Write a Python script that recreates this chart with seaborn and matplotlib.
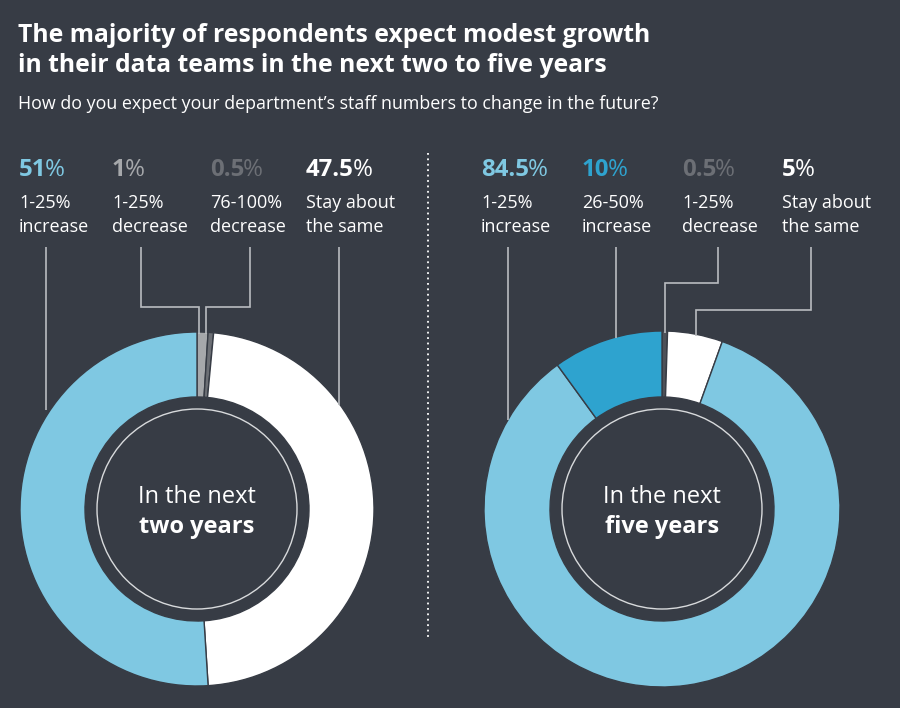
import numpy as np
import pandas as pd
import seaborn as sns
import matplotlib
matplotlib.use("Agg")
import matplotlib.pyplot as plt
from matplotlib.patches import Circle

# ---------------- data ----------------
title_lines = ["The majority of respondents expect modest growth",
               "in their data teams in the next two to five years"]
subtitle = "How do you expect your department\u2019s staff numbers to change in the future?"

# Two-year outlook (header order)
two_cats = ["1-25%\nincrease", "1-25%\ndecrease", "76-100%\ndecrease", "Stay about\nthe same"]
two_vals = [51, 1, 0.5, 47.5]
two_pct = ["51", "1", "0.5", "47.5"]
# wedge order clockwise from 12 o'clock (indices into the lists above)
two_order = [1, 2, 3, 0]

# Five-year outlook (header order)
five_cats = ["1-25%\nincrease", "26-50%\nincrease", "1-25%\ndecrease", "Stay about\nthe same"]
five_vals = [84.5, 10, 0.5, 5]
five_pct = ["84.5", "10", "0.5", "5"]
five_order = [2, 3, 0, 1]

# ---------------- style ----------------
BG = "#373c45"
LIGHT_BLUE = "#7fc8e2"
MID_BLUE = "#2ea3cf"
WHITE = "#ffffff"
LIGHT_GRAY = "#a6a8ab"
DARK_GRAY = "#6c6f75"
SLICE_DARK = "#4d5158"
LINE = "#b9bcc0"

two_wedge_colors = [LIGHT_BLUE, LIGHT_GRAY, DARK_GRAY, WHITE]
two_label_colors = [LIGHT_BLUE, LIGHT_GRAY, DARK_GRAY, WHITE]
five_wedge_colors = [LIGHT_BLUE, MID_BLUE, SLICE_DARK, WHITE]
five_label_colors = [LIGHT_BLUE, MID_BLUE, DARK_GRAY, WHITE]

sns.set_theme(style="white")
FONT = "Open Sans"
plt.rcParams["font.family"] = [FONT, "DejaVu Sans"]

W, H = 900, 708
fig = plt.figure(figsize=(W / 100, H / 100), dpi=100, facecolor=BG)
ax = fig.add_axes([0, 0, 1, 1])
ax.set_facecolor(BG)


def donut(cx, cy, r_out, r_in, vals, colors, order):
    v = [vals[i] for i in order]
    c = [colors[i] for i in order]
    ax.pie(v, colors=c, startangle=-90, counterclock=True, radius=r_out,
           center=(cx, cy), frame=True,
           wedgeprops=dict(width=r_out - r_in, edgecolor=BG, linewidth=1.0,
                           antialiased=True))
    ax.add_patch(Circle((cx, cy), r_in - 12, fill=False, edgecolor="#d8dadc",
                        linewidth=1.0))


donut(197, 509, 177, 112, two_vals, two_wedge_colors, two_order)
donut(662, 509, 178, 112, five_vals, five_wedge_colors, five_order)

ax.set_xlim(0, W)
ax.set_ylim(H, 0)
ax.set_aspect("auto")
ax.axis("off")

# ---------------- texts ----------------
ax.text(18, 42, title_lines[0], color="white", fontsize=17.8, fontweight="bold",
        va="baseline", ha="left")
ax.text(18, 72, title_lines[1], color="white", fontsize=17.8, fontweight="bold",
        va="baseline", ha="left")
ax.text(18, 109, subtitle, color="white", fontsize=12.9, va="baseline", ha="left")

fig.canvas.draw()
renderer = fig.canvas.get_renderer()


def header(x, pct, cat, color):
    t = ax.text(x, 176, pct, color=color, fontsize=17.3, fontweight="bold",
                va="baseline", ha="left")
    bb = t.get_window_extent(renderer)
    ax.text(x + bb.width - 1.5, 176, "%", color=color, fontsize=17.3,
            fontweight="normal", va="baseline", ha="left")
    l1, l2 = cat.split("\n")
    ax.text(x, 208, l1, color="white", fontsize=13, va="baseline", ha="left")
    ax.text(x, 232, l2, color="white", fontsize=13, va="baseline", ha="left")


two_x = [19, 112, 210, 306]
five_x = [481, 582, 682, 782]
for x, p, c, col in zip(two_x, two_pct, two_cats, two_label_colors):
    header(x, p, c, col)
for x, p, c, col in zip(five_x, five_pct, five_cats, five_label_colors):
    header(x, p, c, col)

# ---------------- leader lines ----------------
lkw = dict(color=LINE, linewidth=1.2, solid_capstyle="butt", solid_joinstyle="miter")
ax.plot([46, 46], [247, 410], **lkw)
ax.plot([141, 141, 199, 199], [247, 307, 307, 334], **lkw)
ax.plot([250, 250, 206, 206], [247, 307, 307, 334], **lkw)
ax.plot([339, 339], [247, 405], **lkw)

ax.plot([508, 508], [247, 420], **lkw)
ax.plot([616, 616], [247, 338], **lkw)
ax.plot([718, 718, 665, 665], [247, 283, 283, 333], **lkw)
ax.plot([811, 811, 696, 696], [247, 310, 310, 336], **lkw)

# divider
ax.plot([428, 428], [153, 637], color="white", linewidth=1.3, linestyle=(0, (1, 2)))

# centre labels
for cx, word in [(197, "two years"), (662, "five years")]:
    ax.text(cx, 503, "In the next", color="white", fontsize=17, ha="center",
            va="baseline")
    ax.text(cx, 533, word, color="white", fontsize=17, fontweight="bold",
            ha="center", va="baseline")

fig.savefig("out.png", dpi=100, facecolor=BG)
